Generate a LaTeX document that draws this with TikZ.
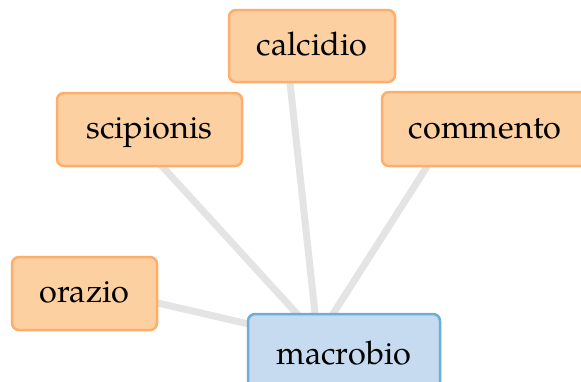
\documentclass[tikz,border=0pt]{standalone}
\usepackage{fontspec}
\setmainfont{TeX Gyre Pagella}
\definecolor{ofill}{HTML}{FDD0A2}
\definecolor{odraw}{HTML}{FDAE6B}
\definecolor{bfill}{HTML}{C6DBEF}
\definecolor{bdraw}{HTML}{6BAED6}
\definecolor{edgec}{HTML}{E4E4E4}
\tikzset{
  box/.style={rounded corners=7pt, line width=2.5pt, inner sep=0pt,
    font=\fontsize{32.5}{38}\selectfont, text height=26pt, text depth=8pt},
  obox/.style={box, draw=odraw, fill=ofill},
  bbox/.style={box, draw=bdraw, fill=bfill},
  link/.style={draw=edgec, line width=7pt}
}
\begin{document}
\begin{tikzpicture}[x=1pt,y=-1pt]
\useasboundingbox (0,0) rectangle (581,381);
% edge endpoints
\coordinate (ecal) at (286,46);
\coordinate (esci) at (129,130);
\coordinate (ecom) at (451,129);
\coordinate (eora) at (84,286);
\coordinate (mcal) at (319,350);
\coordinate (msci) at (330,350);
\coordinate (mcom) at (310,350);
\coordinate (mora) at (344,346);
\draw[link] (ecal) -- (mcal);
\draw[link] (esci) -- (msci);
\draw[link] (ecom) -- (mcom);
\draw[link] (eora) -- (mora);
\node[obox, minimum width=166pt, minimum height=72pt] (calcidio) at (312,46) {calcidio};
\node[obox, minimum width=185pt, minimum height=73pt] (scipionis) at (149.5,129.5) {scipionis};
\node[obox, minimum width=206pt, minimum height=74pt] (commento) at (485,129) {commento};
\node[obox, minimum width=145pt, minimum height=73pt] (orazio) at (84.5,293.5) {orazio};
\node[bbox, minimum width=192pt, minimum height=83pt] (macrobio) at (344,355.5) {macrobio};
\end{tikzpicture}
\end{document}
